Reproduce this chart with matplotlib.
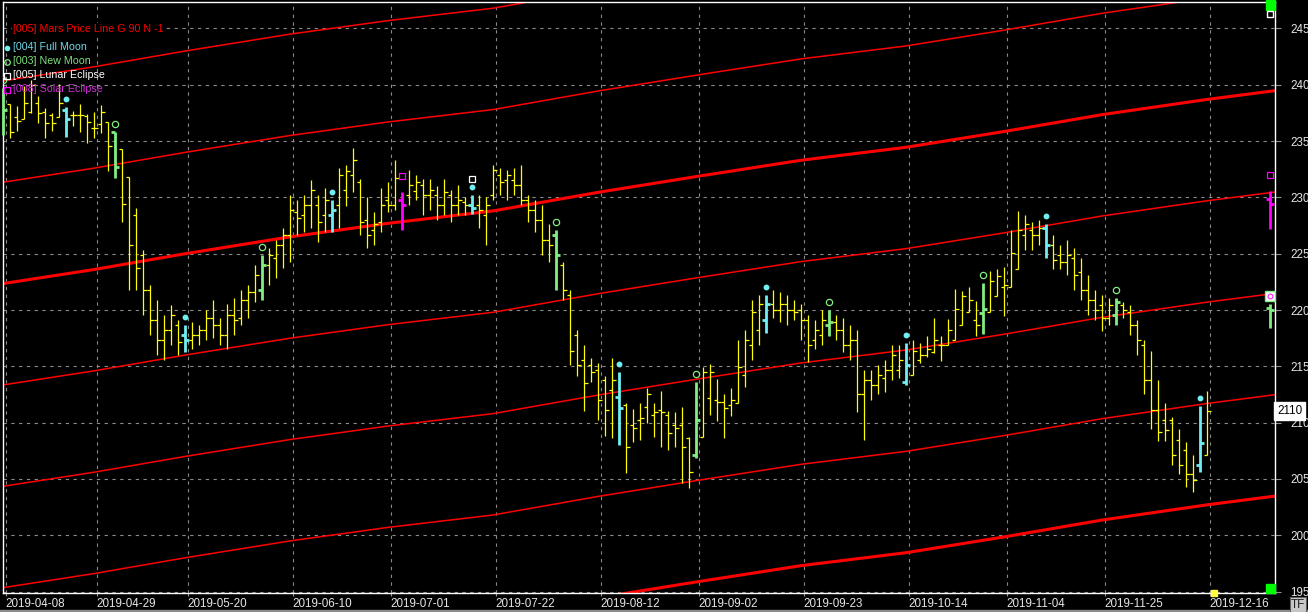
import matplotlib
matplotlib.use("Agg")
import matplotlib.pyplot as plt
from matplotlib import font_manager
from matplotlib.transforms import offset_copy, blended_transform_factory
from matplotlib.patches import Rectangle

names = {f.name for f in font_manager.fontManager.ttflist}
NARROW = "Liberation Sans Narrow" in names
FONT = "Liberation Sans Narrow" if NARROW else "Liberation Sans"
plt.rcParams["font.family"] = [FONT, "DejaVu Sans"]
TICK_FS = 9.6 if NARROW else 8.4
LEG_FS = 8.6 if NARROW else 7.7

# daily OHLC bars (bar index 0 .. 172)
opens = [2391, 2383, 2371, 2370, 2376, 2384, 2376, 2373, 2371, 2378, 2373, 2373, 2372, 2362, 2365, 2367, 2358,
         2343, 2318, 2284, 2249, 2218, 2191, 2173, 2182, 2187, 2178, 2173, 2178, 2182, 2193, 2187, 2178, 2196,
         2193, 2209, 2216, 2218, 2240, 2246, 2258, 2267, 2287, 2284, 2293, 2293, 2284, 2284, 2293, 2307, 2320,
         2314, 2280, 2271, 2278, 2298, 2293, 2298, 2302, 2306, 2311, 2302, 2302, 2293, 2302, 2293, 2296, 2293,
         2293, 2284, 2302, 2320, 2315, 2315, 2311, 2298, 2289, 2280, 2262, 2267, 2240, 2213, 2178, 2156, 2151,
         2147, 2138, 2129, 2123, 2116, 2098, 2102, 2114, 2107, 2111, 2107, 2098, 2098, 2086, 2071, 2087, 2122,
         2120, 2118, 2116, 2117, 2142, 2169, 2182, 2191, 2205, 2200, 2205, 2200, 2200, 2191, 2173, 2178, 2187,
         2189, 2182, 2169, 2173, 2125, 2138, 2133, 2140, 2147, 2147, 2136, 2142, 2156, 2160, 2163, 2169, 2169,
         2173, 2187, 2198, 2191, 2197, 2198, 2212, 2220, 2220, 2236, 2267, 2271, 2267, 2273, 2258, 2249, 2243,
         2246, 2234, 2218, 2209, 2204, 2193, 2196, 2204, 2198, 2187, 2169, 2138, 2111, 2102, 2102, 2085, 2076,
         2054, 2062, 2071]
highs = [2397, 2383, 2381, 2399, 2404, 2390, 2379, 2375, 2401, 2380, 2377, 2383, 2374, 2376, 2382, 2367, 2358,
         2343, 2318, 2291, 2253, 2222, 2209, 2196, 2204, 2191, 2187, 2189, 2187, 2200, 2209, 2193, 2205, 2211,
         2218, 2222, 2240, 2249, 2255, 2262, 2273, 2302, 2298, 2302, 2315, 2302, 2308, 2298, 2326, 2329, 2344,
         2316, 2300, 2287, 2308, 2314, 2333, 2305, 2324, 2320, 2316, 2316, 2310, 2316, 2307, 2311, 2300, 2302,
         2302, 2300, 2329, 2326, 2324, 2326, 2329, 2302, 2298, 2293, 2276, 2271, 2243, 2218, 2182, 2169, 2157,
         2153, 2141, 2157, 2145, 2117, 2112, 2117, 2131, 2117, 2128, 2110, 2109, 2114, 2087, 2136, 2149, 2152,
         2139, 2125, 2131, 2173, 2182, 2209, 2213, 2213, 2218, 2216, 2213, 2209, 2205, 2196, 2191, 2200, 2200,
         2196, 2193, 2187, 2182, 2147, 2147, 2151, 2156, 2169, 2169, 2171, 2173, 2171, 2177, 2193, 2177, 2192,
         2219, 2217, 2220, 2208, 2224, 2235, 2236, 2238, 2271, 2288, 2284, 2278, 2280, 2276, 2267, 2258, 2262,
         2255, 2246, 2231, 2218, 2213, 2211, 2211, 2207, 2204, 2191, 2173, 2164, 2138, 2117, 2105, 2094, 2083,
         2071, 2115, 2128]
lows = [2355, 2353, 2359, 2370, 2375, 2366, 2353, 2359, 2371, 2354, 2363, 2358, 2348, 2353, 2357, 2323, 2317,
        2278, 2218, 2218, 2196, 2178, 2160, 2156, 2169, 2160, 2163, 2165, 2169, 2173, 2175, 2169, 2165, 2178,
        2187, 2193, 2207, 2209, 2222, 2228, 2237, 2243, 2267, 2269, 2273, 2260, 2269, 2269, 2273, 2292, 2305,
        2267, 2255, 2258, 2269, 2287, 2289, 2271, 2293, 2298, 2284, 2289, 2280, 2284, 2278, 2284, 2284, 2285,
        2273, 2258, 2298, 2302, 2298, 2302, 2293, 2278, 2269, 2249, 2243, 2218, 2209, 2151, 2141, 2110, 2136,
        2102, 2088, 2086, 2080, 2055, 2083, 2085, 2100, 2087, 2078, 2076, 2078, 2046, 2042, 2069, 2087, 2107,
        2101, 2086, 2106, 2117, 2132, 2156, 2169, 2180, 2193, 2189, 2187, 2191, 2173, 2154, 2165, 2169, 2177,
        2173, 2163, 2156, 2109, 2085, 2120, 2125, 2127, 2138, 2140, 2133, 2142, 2153, 2158, 2162, 2155, 2169,
        2173, 2187, 2198, 2177, 2179, 2198, 2212, 2195, 2220, 2236, 2253, 2253, 2258, 2246, 2236, 2236, 2231,
        2218, 2209, 2196, 2191, 2181, 2187, 2187, 2193, 2178, 2160, 2125, 2094, 2084, 2084, 2062, 2054, 2043,
        2038, 2056, 2071]
closes = [2378, 2358, 2368, 2384, 2400, 2375, 2366, 2366, 2384, 2370, 2373, 2373, 2367, 2362, 2376, 2346, 2327,
          2294, 2258, 2237, 2218, 2191, 2173, 2182, 2196, 2172, 2173, 2178, 2182, 2193, 2187, 2178, 2196, 2191,
          2209, 2216, 2231, 2240, 2249, 2258, 2267, 2289, 2282, 2293, 2307, 2278, 2298, 2289, 2320, 2323, 2333,
          2278, 2267, 2276, 2293, 2293, 2317, 2293, 2311, 2314, 2302, 2307, 2293, 2305, 2293, 2298, 2293, 2291,
          2289, 2293, 2324, 2314, 2320, 2311, 2298, 2289, 2280, 2262, 2258, 2249, 2218, 2164, 2151, 2135, 2145,
          2120, 2111, 2138, 2113, 2078, 2095, 2104, 2125, 2109, 2109, 2091, 2095, 2078, 2056, 2102, 2145, 2145,
          2118, 2113, 2120, 2149, 2173, 2198, 2205, 2205, 2200, 2205, 2200, 2198, 2191, 2169, 2182, 2191, 2189,
          2182, 2169, 2173, 2125, 2138, 2133, 2142, 2147, 2160, 2156, 2151, 2164, 2160, 2165, 2173, 2169, 2182,
          2201, 2212, 2209, 2187, 2201, 2226, 2230, 2222, 2251, 2271, 2276, 2267, 2273, 2258, 2244, 2243, 2249,
          2231, 2218, 2209, 2200, 2193, 2204, 2207, 2200, 2187, 2173, 2138, 2111, 2092, 2093, 2071, 2062, 2054,
          2049, 2082, 2110]

full_moon = [9, 26, 47, 67, 88, 109, 129, 149, 171]
new_moon = [0, 16, 37, 79, 99, 118, 140, 159]
solar_eclipse = [57]
lunar_eclipse = [67]

# projected event bars beyond the last bar
future_idx = 181
solar_future = (2299, 2306, 2272, 2294)   # open, high, low, close
newmoon_future = (2202, 2205, 2184, 2200)

# Mars price line (base harmonic) read at the date ticks, other lines are +/- 90
mars_idx = [0, 13, 26, 41, 55, 70, 85, 99, 114, 129, 143, 157, 172, 182]
mars_base = [2223.5, 2236, 2250, 2265, 2277, 2288, 2304.5, 2318.5, 2333, 2344.5, 2358.5, 2373.5, 2387, 2395]
mars_offsets = [180, 90, 0, -90, -180, -270, -360, -450]

tick_idx = [0, 13, 26, 41, 55, 70, 85, 99, 114, 129, 143, 157, 172]
tick_labels = ["2019-04-08", "2019-04-29", "2019-05-20", "2019-06-10", "2019-07-01", "2019-07-22",
               "2019-08-12", "2019-09-02", "2019-09-23", "2019-10-14", "2019-11-04", "2019-11-25",
               "2019-12-16"]
last_price = 2110

YELLOW = "#ffff00"
CYAN = "#70eef2"
GREEN = "#80ee80"
MAGENTA = "#ff00ff"
RED = "#ff0000"

W, H = 1308, 612
fig = plt.figure(figsize=(W / 100, H / 100), dpi=100, facecolor="black")
ax = fig.add_axes([3 / W, 19 / H, 1272 / W, 591 / H], facecolor="black")
ax.set_xlim(-0.05, 181.7)
ax.set_ylim(1948.7, 2473.5)

# mars lines
for off in mars_offsets:
    lw = 2.2 if off % 360 == 0 else 1.1
    ax.plot(mars_idx, [b + off for b in mars_base], color=RED, lw=lw, zorder=2)

# bars
def draw_bars(idx, o, h, l, c, color, lw, tick):
    ax.vlines(idx, l, h, color=color, lw=lw, zorder=3, clip_on=False)
    ax.hlines(o, [i - tick for i in idx], idx, color=color, lw=lw, zorder=3)
    ax.hlines(c, idx, [i + tick for i in idx], color=color, lw=lw, zorder=3)

idx = list(range(len(opens)))
special = set(full_moon) | set(new_moon) | set(solar_eclipse)
plain = [i for i in idx if i not in special]
draw_bars(plain, [opens[i] for i in plain], [highs[i] for i in plain], [lows[i] for i in plain],
          [closes[i] for i in plain], YELLOW, 0.9, 0.5)

for group, col in [(full_moon, CYAN), (new_moon, GREEN), (solar_eclipse, MAGENTA)]:
    draw_bars(group, [opens[i] for i in group], [highs[i] for i in group], [lows[i] for i in group],
              [closes[i] for i in group], col, 2.0, 0.55)

draw_bars([future_idx], [solar_future[0]], [solar_future[1]], [solar_future[2]], [solar_future[3]], MAGENTA, 2.0, 0.55)
draw_bars([future_idx], [newmoon_future[0]], [newmoon_future[1]], [newmoon_future[2]], [newmoon_future[3]], GREEN, 2.0, 0.55)

# event markers above the highs
up8 = offset_copy(ax.transData, fig=fig, y=8, units="dots")
up16 = offset_copy(ax.transData, fig=fig, y=16, units="dots")
ax.plot(full_moon, [highs[i] for i in full_moon], "o", ms=3.2, color=CYAN, mec=CYAN, transform=up8, zorder=4)
ax.plot(new_moon, [highs[i] for i in new_moon], "o", ms=4.5, mfc="none", mec=GREEN, mew=0.9, transform=up8, zorder=4)
ax.plot(solar_eclipse, [highs[i] for i in solar_eclipse], "s", ms=4.5, mfc="none", mec=MAGENTA, mew=0.9,
        transform=up16, zorder=4)
ax.plot(lunar_eclipse, [highs[i] for i in lunar_eclipse], "s", ms=4.5, mfc="none", mec="white", mew=0.9,
        transform=up16, zorder=4)
ax.plot([future_idx], [solar_future[1]], "s", ms=4.5, mfc="none", mec=MAGENTA, mew=0.9, transform=up16, zorder=4)
ax.plot([future_idx], [newmoon_future[1]], "s", ms=7, mfc="white", mec=GREEN, mew=1.0, transform=up8, zorder=4)
ax.plot([future_idx], [newmoon_future[1]], "o", ms=3.5, mfc="none", mec=MAGENTA, mew=0.7, transform=up8, zorder=5)

# off-screen event flags at the right edge
bt = blended_transform_factory(ax.transData, ax.transAxes)
ax.add_patch(Rectangle((future_idx - 0.6, 0.9865), 1.3, 0.017, transform=bt, color="#00ff00", zorder=5, clip_on=False))
ax.add_patch(Rectangle((future_idx - 0.6, 0.0), 1.3, 0.015, transform=bt, color="#00ff00", zorder=5, clip_on=False))
ax.plot([future_idx], [0.9805], "s", ms=4.5, mfc="black", mec="white", mew=1.0, transform=bt, zorder=6)
ax.plot([173], [0.0], "s", ms=4.5, color="#ffff40", transform=bt, zorder=6, clip_on=False)

# axes styling
for s in ax.spines.values():
    s.set_color("white")
    s.set_linewidth(1.0)
ax.yaxis.tick_right()
ax.set_yticks(range(1950, 2451, 50))
ax.set_yticklabels([str(v) for v in range(1950, 2451, 50)])
ax.tick_params(axis="y", colors="#909090", labelcolor="#e6e6e6", length=4, width=0.8, pad=7, labelsize=TICK_FS)
ax.set_xticks([t + 0.35 for t in tick_idx])
ax.set_xticklabels(tick_labels, ha="left")
ax.tick_params(axis="x", colors="#909090", labelcolor="#e6e6e6", length=2, width=0.8, pad=1.5, labelsize=TICK_FS)
ax.grid(True, color="#8a8a8a", linestyle=(0, (3, 4)), linewidth=0.8, zorder=1)
ax.set_axisbelow(True)

# last price label
ax.text(1.0015, last_price, str(last_price), transform=blended_transform_factory(ax.transAxes, ax.transData),
        ha="left", va="center", fontsize=TICK_FS, color="black",
        bbox=dict(boxstyle="square,pad=0.25", fc="white", ec="white"), zorder=10, clip_on=False)

# legend
leg = [("[005] Mars Price Line G 90 N -1", RED, None, None),
       ("[004] Full Moon", "#6fd8e8", "o", CYAN),
       ("[003] New Moon", "#7fe07f", "o", GREEN),
       ("[005] Lunar Eclipse", "white", "s", "white"),
       ("[008] Solar Eclipse", "#d030d8", "s", MAGENTA)]
ys = [29, 47.5, 61.5, 75.5, 89.5]
for (txt, col, mk, mcol), yp in zip(leg, ys):
    fig.text(13 / W, 1 - yp / H, txt, color=col, fontsize=LEG_FS, va="center", ha="left", zorder=8,
             bbox=dict(boxstyle="square,pad=0.05", fc="black", ec="none") if yp < 40 else None)
    if mk == "o" and txt.endswith("Full Moon"):
        fig.lines.append(plt.Line2D([6.5 / W], [1 - yp / H], marker="o", ms=3, color=mcol, transform=fig.transFigure))
    elif mk is not None:
        fig.lines.append(plt.Line2D([6.5 / W], [1 - yp / H], marker=mk, ms=4, mfc="none", mec=mcol, mew=0.9,
                                    transform=fig.transFigure))

# bottom strip and TF box
fig.patches.append(Rectangle((0, 0), 1, 2.5 / H, transform=fig.transFigure, color="#8c8c8c"))
fig.patches.append(Rectangle((1290 / W, 0), 16 / W, 15 / H, transform=fig.transFigure, fc="#c8c8c8", ec="#606060", lw=0.8))
fig.text(1298 / W, 7 / H, "TF", color="#202020", fontsize=TICK_FS, ha="center", va="center")

fig.savefig("out.png", dpi=100, facecolor="black")
